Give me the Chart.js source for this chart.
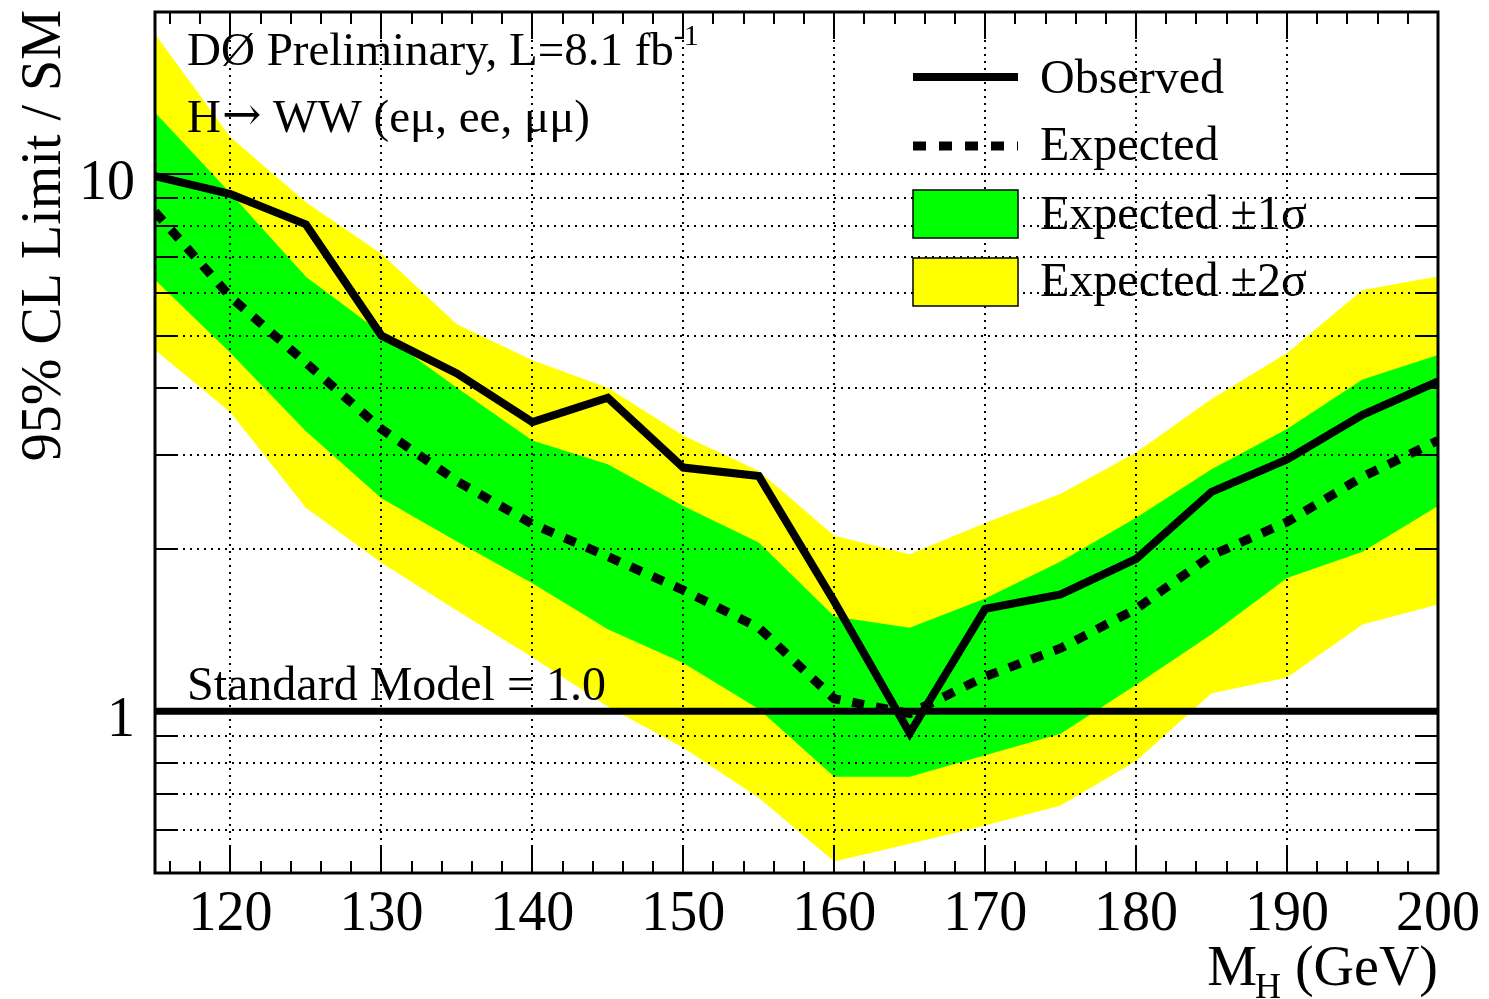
<!DOCTYPE html>
<html>
<head>
<meta charset="utf-8">
<script src="https://cdn.jsdelivr.net/npm/chart.js@4.4.1/dist/chart.umd.min.js"></script>
<style>
html,body{margin:0;padding:0;background:#ffffff;}
canvas{display:block;}
</style>
</head>
<body>
<canvas id="c" width="1489" height="999"></canvas>
<script>
// ---------- data ----------
const massPoints = [115,120,125,130,135,140,145,150,155,160,165,170,175,180,185,190,195,200];
const observed   = [9.9, 9.17, 8.05, 5.0, 4.25, 3.45, 3.83, 2.84, 2.74, 1.6, 0.91, 1.55, 1.65, 1.92, 2.56, 2.94, 3.56, 4.11];
const expected   = [8.5, 5.9, 4.45, 3.35, 2.68, 2.23, 1.94, 1.68, 1.43, 1.055, 0.99, 1.16, 1.31, 1.55, 1.95, 2.25, 2.73, 3.19];
const sigma1Up   = [13.0, 9.2, 6.43, 5.05, 4.0, 3.19, 2.88, 2.41, 2.06, 1.5, 1.43, 1.62, 1.9, 2.29, 2.82, 3.35, 4.14, 4.6];
const sigma1Down = [6.35, 4.64, 3.32, 2.49, 2.07, 1.73, 1.42, 1.23, 1.01, 0.755, 0.755, 0.828, 0.908, 1.12, 1.39, 1.77, 1.98, 2.41];
const sigma2Up   = [18.2, 11.7, 8.85, 7.1, 5.25, 4.5, 4.0, 3.26, 2.8, 2.12, 1.96, 2.24, 2.54, 3.03, 3.81, 4.64, 6.08, 6.44];
const sigma2Down = [4.7, 3.6, 2.39, 1.89, 1.54, 1.26, 1.02, 0.855, 0.69, 0.525, 0.567, 0.613, 0.668, 0.808, 1.08, 1.155, 1.45, 1.58];
const smMass  = [115, 200];
const smLevel = [1.0, 1.0];

const xTickLabels = [120,130,140,150,160,170,180,190,200];
const xGridValues = [120,130,140,150,160,170,180,190];
const yTickLabels = [1, 10];
const yGridValues = [0.6,0.7,0.8,0.9,1,2,3,4,5,6,7,8,9,10];
const xMin = 115, xMax = 200, yMin = 0.5, yMax = 20;

const legendLabels = ['Observed', 'Expected', 'Expected \u00b11\u03c3', 'Expected \u00b12\u03c3'];

// ---------- helpers ----------
const pts = (xs, ys) => xs.map((x, i) => ({x: x, y: ys[i]}));
const SERIF = '"Liberation Serif", "Times New Roman", "DejaVu Serif", serif';
const YELLOW = '#ffff00', GREEN = '#00ff00';

const decor = {
  id: 'decor',
  beforeDatasetDraw(chart, args) {
    if (args.index !== 2) return; // after the bands, before the lines
    const {ctx, chartArea: a, scales: {x, y}} = chart;
    ctx.save();
    ctx.strokeStyle = '#000';
    ctx.lineWidth = 2;
    ctx.setLineDash([2, 5]);
    yGridValues.forEach(v => {
      const py = Math.round(y.getPixelForValue(v));
      ctx.beginPath(); ctx.moveTo(a.left, py); ctx.lineTo(a.right, py); ctx.stroke();
    });
    xGridValues.forEach(v => {
      const px = Math.round(x.getPixelForValue(v));
      ctx.beginPath(); ctx.moveTo(px, a.top); ctx.lineTo(px, a.bottom); ctx.stroke();
    });
    ctx.restore();
  },
  afterDraw(chart) {
    const {ctx, chartArea: a, scales: {x, y}} = chart;
    ctx.save();
    ctx.strokeStyle = '#000';
    ctx.fillStyle = '#000';
    ctx.setLineDash([]);
    // ticks
    ctx.lineWidth = 2;
    yGridValues.forEach(v => {
      const py = Math.round(y.getPixelForValue(v));
      const len = (yTickLabels.indexOf(v) >= 0) ? 38 : 21;
      ctx.beginPath(); ctx.moveTo(a.left, py); ctx.lineTo(a.left + len, py);
      ctx.moveTo(a.right, py); ctx.lineTo(a.right - len, py); ctx.stroke();
    });
    for (let m = 116; m < 200; m += 2) {
      const px = Math.round(x.getPixelForValue(m));
      const len = (m % 10 === 0) ? 27 : 12;
      ctx.beginPath(); ctx.moveTo(px, a.bottom); ctx.lineTo(px, a.bottom - len);
      ctx.moveTo(px, a.top); ctx.lineTo(px, a.top + len); ctx.stroke();
    }
    // frame
    ctx.lineWidth = 3;
    ctx.strokeRect(a.left, a.top, a.right - a.left, a.bottom - a.top);

    // tick labels
    ctx.font = '56px ' + SERIF;
    ctx.textAlign = 'center';
    ctx.textBaseline = 'alphabetic';
    xTickLabels.forEach(v => {
      ctx.fillText(String(v), x.getPixelForValue(v), 930);
    });
    ctx.textAlign = 'right';
    yTickLabels.forEach(v => {
      ctx.fillText(String(v), 135, y.getPixelForValue(v) + 25);
    });

    // axis titles
    ctx.textAlign = 'right';
    ctx.font = '56px ' + SERIF;
    const gev = ' (GeV)';
    const gevW = ctx.measureText(gev).width;
    ctx.fillText(gev, a.right, 985);
    ctx.font = '36px ' + SERIF;
    const hW = ctx.measureText('H').width;
    ctx.fillText('H', a.right - gevW, 998);
    ctx.font = '56px ' + SERIF;
    ctx.fillText('M', a.right - gevW - hW + 2, 985);

    ctx.save();
    ctx.translate(60, 10);
    ctx.rotate(-Math.PI / 2);
    ctx.textAlign = 'right';
    ctx.textBaseline = 'alphabetic';
    ctx.fillText('95% CL Limit / SM', 0, 0);
    ctx.restore();

    // in-plot texts
    ctx.textAlign = 'left';
    ctx.font = '47px ' + SERIF;
    const t1 = 'D\u00d8 Preliminary, L=8.1 fb';
    ctx.fillText(t1, 187, 65);
    const t1W = ctx.measureText(t1).width;
    ctx.font = '30px ' + SERIF;
    ctx.fillText('-1', 187 + t1W, 45);

    // "H→ WW (eμ, ee, μμ)" with a full-size arrow
    ctx.font = '47px ' + SERIF;
    let cx = 187;
    ctx.fillText('H', cx, 132);
    cx += ctx.measureText('H').width + 1;
    ctx.font = '47px "DejaVu Serif", "DejaVu Sans", serif';
    ctx.fillText('\u2192', cx, 130);
    cx += ctx.measureText('\u2192').width;
    ctx.font = '47px ' + SERIF;
    ctx.fillText(' WW (e\u03bc, ee, \u03bc\u03bc)', cx, 132);

    ctx.font = '48px ' + SERIF;
    ctx.fillText('Standard Model = 1.0', 187, 700);

    // legend
    const lx0 = 913, lx1 = 1018, tx = 1040;
    ctx.lineWidth = 8;
    ctx.beginPath(); ctx.moveTo(lx0, 77); ctx.lineTo(lx1, 77); ctx.stroke();
    ctx.lineWidth = 9;
    ctx.setLineDash([13, 13]);
    ctx.beginPath(); ctx.moveTo(lx0, 146); ctx.lineTo(lx1, 146); ctx.stroke();
    ctx.setLineDash([]);
    ctx.lineWidth = 1.5;
    ctx.fillStyle = GREEN;
    ctx.fillRect(lx0, 190, lx1 - lx0, 48);
    ctx.strokeRect(lx0, 190, lx1 - lx0, 48);
    ctx.fillStyle = YELLOW;
    ctx.fillRect(lx0, 258, lx1 - lx0, 48);
    ctx.strokeRect(lx0, 258, lx1 - lx0, 48);
    ctx.fillStyle = '#000';
    ctx.font = '48px ' + SERIF;
    ctx.fillText(legendLabels[0], tx, 93);
    ctx.fillText(legendLabels[1], tx, 160);
    ctx.fillText(legendLabels[2], tx, 229);
    ctx.fillText(legendLabels[3], tx, 296);
    ctx.restore();
  }
};

new Chart(document.getElementById('c'), {
  type: 'line',
  data: {
    datasets: [
      { label: 'Observed', data: pts(massPoints, observed), borderColor: '#000', borderWidth: 8,
        borderJoinStyle: 'miter', pointRadius: 0, fill: false },
      { label: 'Expected', data: pts(massPoints, expected), borderColor: '#000', borderWidth: 9,
        borderDash: [12, 12], borderCapStyle: 'butt', pointRadius: 0, fill: false },
      { label: 'SM', data: pts(smMass, smLevel), borderColor: '#000', borderWidth: 7,
        pointRadius: 0, fill: false },
      { label: '1s up', data: pts(massPoints, sigma1Up), borderWidth: 0, borderColor: 'rgba(0,0,0,0)',
        pointRadius: 0, backgroundColor: GREEN, fill: '+1' },
      { label: '1s down', data: pts(massPoints, sigma1Down), borderWidth: 0, borderColor: 'rgba(0,0,0,0)',
        pointRadius: 0, fill: false },
      { label: '2s up', data: pts(massPoints, sigma2Up), borderWidth: 0, borderColor: 'rgba(0,0,0,0)',
        pointRadius: 0, backgroundColor: YELLOW, fill: '+1' },
      { label: '2s down', data: pts(massPoints, sigma2Down), borderWidth: 0, borderColor: 'rgba(0,0,0,0)',
        pointRadius: 0, fill: false }
    ]
  },
  options: {
    responsive: false,
    animation: false,
    devicePixelRatio: 1,
    layout: { padding: { left: 155, top: 12, right: 51, bottom: 126 } },
    plugins: { legend: { display: false }, tooltip: { enabled: false }, title: { display: false } },
    elements: { line: { tension: 0 } },
    scales: {
      x: { type: 'linear', min: xMin, max: xMax, display: false },
      y: { type: 'logarithmic', min: yMin, max: yMax, display: false }
    }
  },
  plugins: [decor]
});
</script>
</body>
</html>
